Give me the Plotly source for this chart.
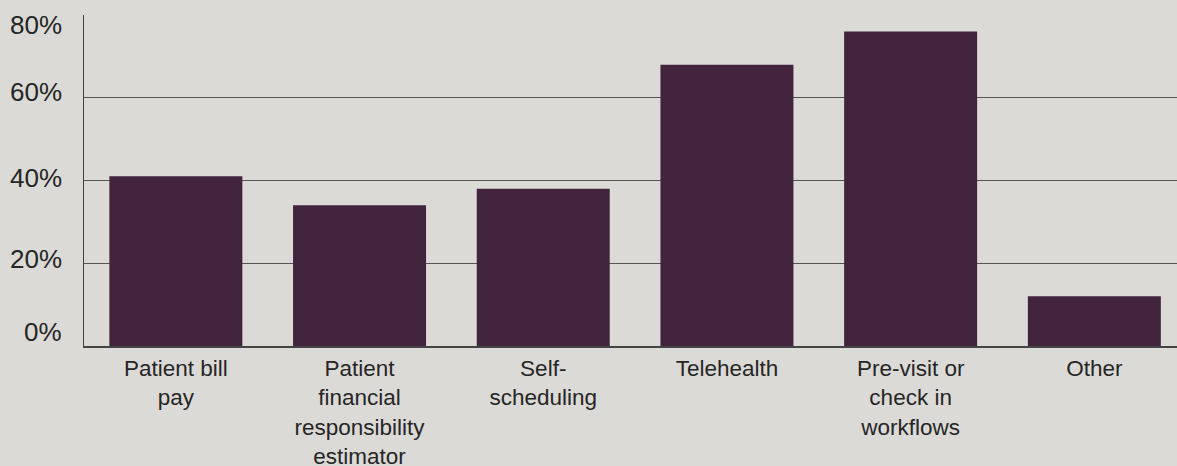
import plotly.graph_objects as go

categories = [
    "Patient bill<br>pay",
    "Patient<br>financial<br>responsibility<br>estimator",
    "Self-<br>scheduling",
    "Telehealth",
    "Pre-visit or<br>check in<br>workflows",
    "Other",
]
values = [41, 34, 38, 68, 76, 12]
y_ticks = [0, 20, 40, 60, 80]
y_tick_labels = ["0%", "20%", "40%", "60%", "80%"]

BG = "#dcdad6"
BAR = "#42253c"
TXT = "#262626"
# vertical nudges of the y labels (pixels), as in the reference layout
label_nudge = [14, 4, 3, 6, -10]

fig = go.Figure(
    go.Bar(
        x=list(range(len(categories))),
        y=values,
        marker=dict(color=BAR, line=dict(width=0)),
        hoverinfo="skip",
    )
)

fig.update_layout(
    width=1177,
    height=466,
    paper_bgcolor=BG,
    plot_bgcolor=BG,
    margin=dict(l=84, r=0, t=15, b=120),
    bargap=0.276,
    showlegend=False,
    font=dict(family="Liberation Sans, Arial, sans-serif", color=TXT),
)

fig.update_xaxes(
    tickmode="array",
    tickvals=list(range(len(categories))),
    ticktext=categories,
    range=[-0.5, 5.45],
    showgrid=False,
    showline=True,
    linecolor="#444444",
    linewidth=2,
    ticks="",
    tickfont=dict(size=22.5, color=TXT),
    ticklabelstandoff=1,
    zeroline=False,
    fixedrange=True,
    automargin=False,
)

fig.update_yaxes(
    range=[0, 80],
    tickmode="array",
    tickvals=y_ticks,
    ticktext=y_tick_labels,
    showticklabels=False,
    showgrid=True,
    gridcolor="#555555",
    gridwidth=1,
    showline=True,
    linecolor="#444444",
    linewidth=1,
    ticks="",
    zeroline=False,
    fixedrange=True,
    automargin=False,
)

for val, lab, nudge in zip(y_ticks, y_tick_labels, label_nudge):
    fig.add_annotation(
        xref="paper",
        yref="y",
        x=0,
        y=val,
        text=lab,
        showarrow=False,
        xanchor="right",
        yanchor="middle",
        xshift=-20,
        yshift=nudge,
        font=dict(size=26, color=TXT),
    )

fig.write_html(
    "out.html",
    config={"displayModeBar": False},
    post_script="document.body.style.margin='0';document.body.style.overflow='hidden';",
)
